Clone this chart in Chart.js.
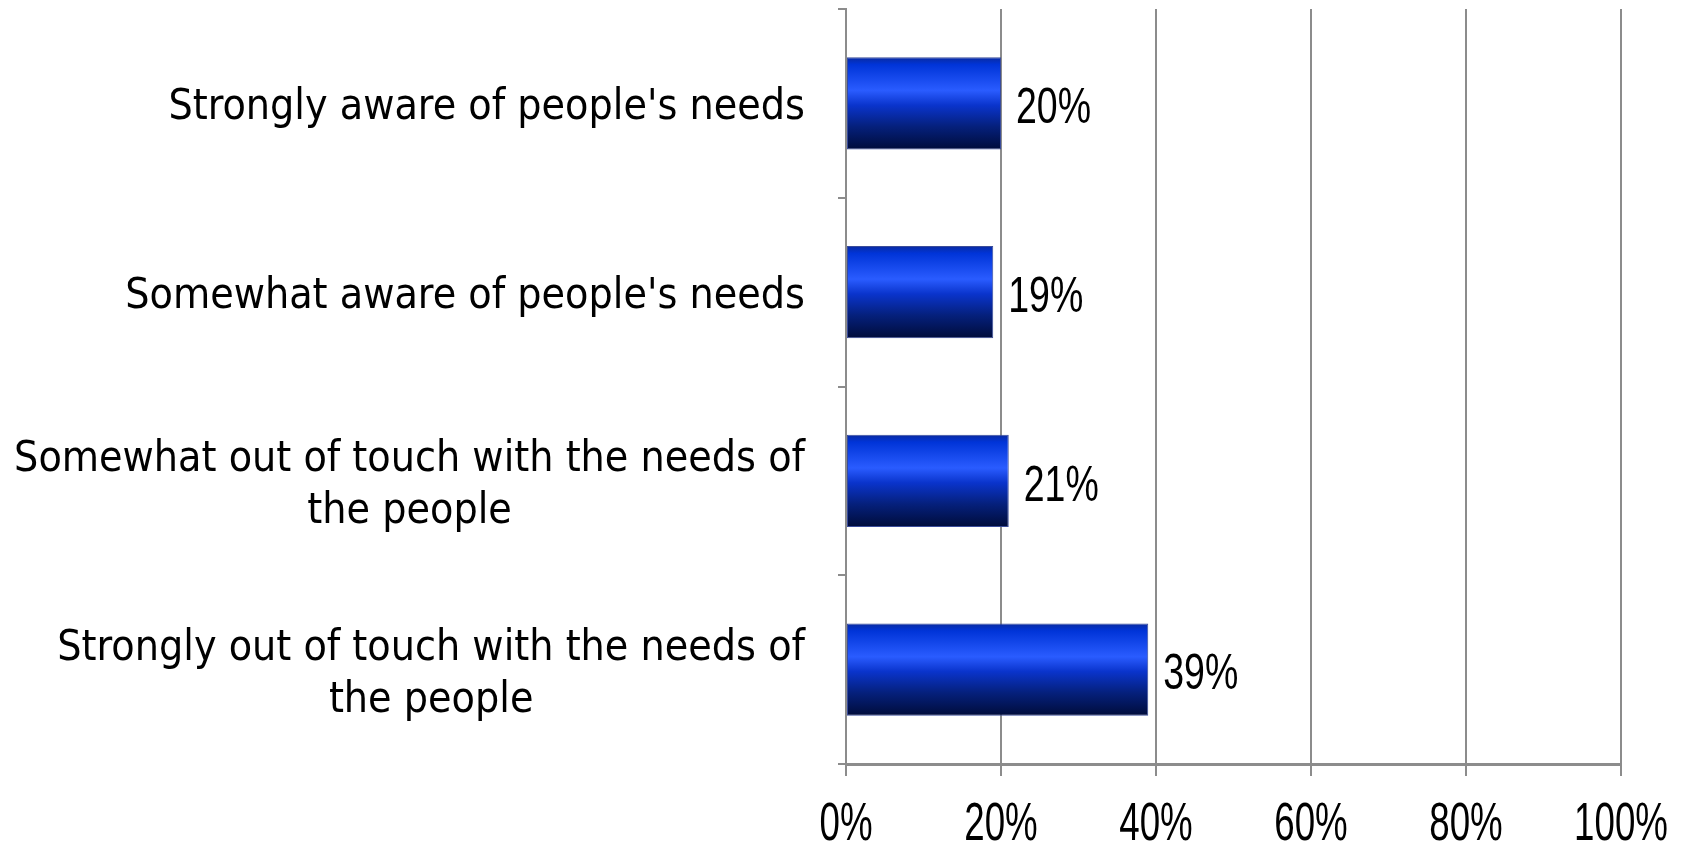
<!DOCTYPE html>
<html>
<head>
<meta charset="utf-8">
<script src="https://cdn.jsdelivr.net/npm/chart.js@4"></script>
<style>
  html, body { margin: 0; padding: 0; background: #fff; }
  #wrap { width: 1692px; height: 845px; }
</style>
</head>
<body>
<div id="wrap"><canvas id="myChart"></canvas></div>
<script>
const categories = [
  ["Strongly aware of people's needs"],
  ["Somewhat aware of people's needs"],
  ["Somewhat out of touch with the needs of", "the people"],
  ["Strongly out of touch with the needs of", "the people"]
];
const values = [20, 19, 21, 39];
const tickValues = [0, 20, 40, 60, 80, 100];

const barPct = 0.49;

// gradient like the old office "glossy" bars
const barFill = (ctx) => {
  const chart = ctx.chart;
  const y = chart.scales.y;
  if (!chart.chartArea || !y) return '#0a34cc';
  const c = y.getPixelForValue(ctx.dataIndex);
  const h = (y.height / categories.length) * barPct;
  const g = chart.ctx.createLinearGradient(0, c - h / 2, 0, c + h / 2);
  g.addColorStop(0, '#0a2a9e');
  g.addColorStop(0.08, '#0034d8');
  g.addColorStop(0.36, '#2a5cff');
  g.addColorStop(0.52, '#0a34cc');
  g.addColorStop(0.75, '#05207c');
  g.addColorStop(1, '#000c3a');
  return g;
};

// draws text squeezed horizontally (the original uses a condensed face)
const narrowText = (ctx, txt, x, y, sx) => {
  ctx.save();
  ctx.translate(x, y);
  ctx.scale(sx, 1);
  ctx.fillText(txt, 0, 0);
  ctx.restore();
};

// category labels: block right aligned, lines centred inside the block
const catLabels = {
  id: 'catLabels',
  afterDraw(chart) {
    const ctx = chart.ctx;
    const y = chart.scales.y;
    const right = 805;
    const lh = 52;
    ctx.save();
    ctx.font = '42.5px "DejaVu Sans Condensed", "DejaVu Sans"';
    ctx.fillStyle = '#000';
    ctx.textAlign = 'center';
    ctx.textBaseline = 'middle';
    categories.forEach((lines, i) => {
      const w = Math.max(...lines.map(l => ctx.measureText(l).width));
      const cx = right - w / 2;
      const cy = y.getPixelForValue(i) + 5;
      lines.forEach((l, j) => {
        ctx.fillText(l, cx, cy + (j - (lines.length - 1) / 2) * lh);
      });
    });
    ctx.restore();
  }
};

const valueLabels = {
  id: 'valueLabels',
  afterDatasetsDraw(chart) {
    const ctx = chart.ctx;
    const meta = chart.getDatasetMeta(0);
    ctx.save();
    ctx.font = '50px "Liberation Sans"';
    ctx.fillStyle = '#000';
    ctx.textAlign = 'left';
    ctx.textBaseline = 'middle';
    meta.data.forEach((bar, i) => {
      narrowText(ctx, values[i] + '%', bar.x + 15, bar.y + 6, 0.75);
    });
    ctx.restore();
  }
};

const xLabels = {
  id: 'xLabels',
  afterDraw(chart) {
    const ctx = chart.ctx;
    const x = chart.scales.x;
    ctx.save();
    ctx.font = '54px "Liberation Sans"';
    ctx.fillStyle = '#000';
    ctx.textAlign = 'center';
    ctx.textBaseline = 'middle';
    tickValues.forEach(v => {
      narrowText(ctx, v + '%', x.getPixelForValue(v), 825, 0.68);
    });
    ctx.restore();
  }
};

new Chart(document.getElementById('myChart'), {
  type: 'bar',
  data: {
    labels: categories,
    datasets: [{
      data: values,
      backgroundColor: barFill,
      borderColor: '#3a4c9a',
      borderWidth: 1,
      borderSkipped: false,
      barPercentage: barPct,
      categoryPercentage: 1
    }]
  },
  options: {
    indexAxis: 'y',
    responsive: true,
    maintainAspectRatio: false,
    animation: false,
    layout: { padding: { top: 9, right: 71, left: 0, bottom: 0 } },
    plugins: { legend: { display: false }, tooltip: { enabled: false } },
    scales: {
      x: {
        min: 0,
        max: 100,
        afterBuildTicks: (s) => { s.ticks = tickValues.map(v => ({ value: v })); },
        grid: { color: '#8c8c8c', lineWidth: 2, tickLength: 12, drawTicks: true },
        border: { color: '#8c8c8c', width: 3 },
        ticks: { display: false },
        afterFit: (s) => { s.height = 81; }
      },
      y: {
        offset: true,
        grid: { offset: true, drawOnChartArea: false, color: '#8c8c8c', lineWidth: 2, tickLength: 8 },
        border: { color: '#8c8c8c', width: 2 },
        ticks: { display: false },
        afterFit: (s) => { s.width = 846; }
      }
    }
  },
  plugins: [catLabels, valueLabels, xLabels]
});
</script>
</body>
</html>
